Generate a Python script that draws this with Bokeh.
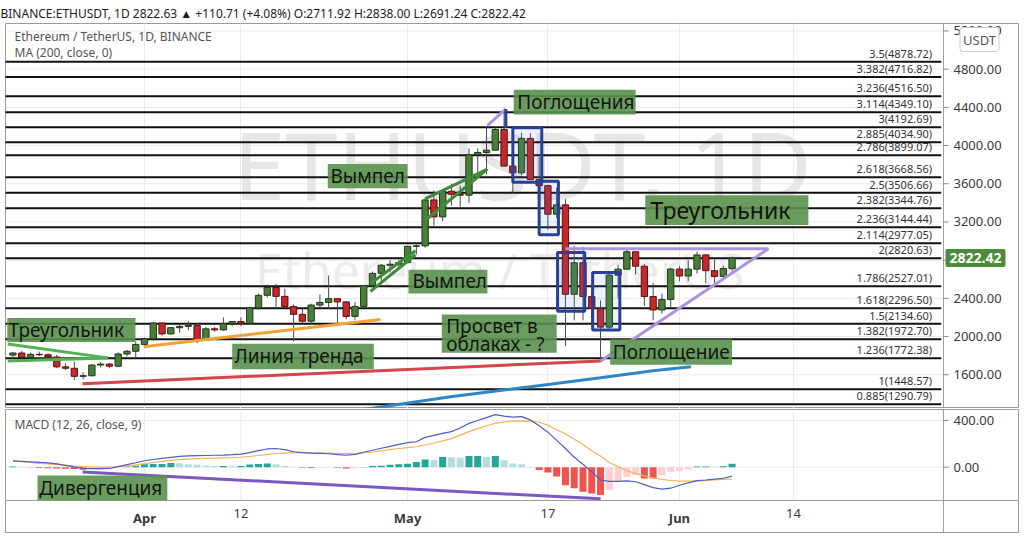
import pandas as pd
from bokeh.plotting import figure
from bokeh.layouts import column
from bokeh.models import Range1d, FixedTicker, PrintfTickFormatter, Label, LinearAxis
from bokeh.embed import file_html
from bokeh.resources import INLINE
from bokeh.core.properties import value

FONT = "Noto Sans"

# ---------------- data ----------------
dates = [d.strftime("%Y-%m-%d") for d in pd.date_range("2021-03-17", "2021-06-07")]
opens = [1806, 1828, 1782, 1814, 1810, 1786, 1683, 1668, 1584, 1590, 1702, 1712, 1690, 1818, 1846,
         1918, 1977, 2142, 2028, 2093, 2107, 2115, 1961, 2081, 2070, 2135, 2157, 2139, 2300, 2432,
         2514, 2421, 2315, 2233, 2161, 2330, 2357, 2397, 2363, 2211, 2316, 2534, 2662, 2747, 2757,
         2774, 2945, 2950, 3431, 3253, 3522, 3490, 3481, 3903, 3928, 3952, 4168, 3785, 3715, 4075,
         3643, 3580, 3281, 3379, 2443, 2773, 2419, 2295, 2099, 2643, 2706, 2888, 2737, 2419, 2279,
         2389, 2707, 2634, 2706, 2855, 2690, 2630, 2712]
highs = [1840, 1850, 1832, 1842, 1825, 1810, 1722, 1738, 1628, 1710, 1732, 1722, 1835, 1862, 1945,
         1990, 2150, 2145, 2100, 2130, 2160, 2140, 2100, 2100, 2200, 2160, 2200, 2315, 2450, 2545,
         2550, 2500, 2340, 2290, 2345, 2440, 2640, 2400, 2370, 2360, 2540, 2680, 2760, 2800, 2800,
         2950, 2985, 3450, 3530, 3540, 3600, 3580, 3970, 3970, 4200, 4190, 4372, 4030, 4135, 4130,
         3880, 3590, 3560, 3440, 2950, 2940, 2480, 2380, 2660, 2750, 2910, 2890, 2760, 2560, 2450,
         2720, 2740, 2800, 2890, 2860, 2810, 2740, 2838]
lows = [1765, 1765, 1760, 1795, 1750, 1672, 1652, 1545, 1550, 1582, 1676, 1668, 1680, 1792, 1770,
        1900, 1955, 2010, 2020, 2040, 2065, 1932, 1955, 2050, 2060, 2110, 2110, 2130, 2280, 2410,
        2310, 2300, 1950, 2140, 2130, 2300, 2290, 2110, 2180, 2170, 2310, 2515, 2580, 2670, 2710,
        2770, 2860, 2930, 3160, 3210, 3370, 3360, 3400, 3700, 3700, 3950, 3780, 3500, 3690, 3640,
        3300, 3120, 3240, 1900, 2170, 2170, 2110, 1735, 2060, 2400, 2700, 2650, 2320, 2170, 2240,
        2310, 2580, 2580, 2660, 2560, 2560, 2620, 2691]
closes = [1828, 1782, 1814, 1810, 1786, 1683, 1668, 1584, 1590, 1702, 1712, 1690, 1818, 1846, 1918,
          1977, 2142, 2028, 2093, 2107, 2115, 1961, 2081, 2070, 2135, 2157, 2139, 2300, 2432, 2514,
          2421, 2315, 2233, 2161, 2330, 2357, 2397, 2363, 2211, 2316, 2534, 2662, 2747, 2757, 2774,
          2945, 2950, 3431, 3253, 3522, 3490, 3481, 3903, 3928, 3952, 4168, 3785, 3715, 4075, 3643,
          3580, 3281, 3379, 2443, 2773, 2419, 2295, 2099, 2643, 2706, 2888, 2737, 2419, 2279, 2389,
          2707, 2634, 2706, 2855, 2690, 2630, 2712, 2822]

macd = [54, 50, 46, 42, 37, 28, 15, 2, -10, -12, -12, -11, 5, 22, 38, 55, 66, 75, 84, 92, 97, 99,
        100, 102, 104, 107, 112, 125, 142, 156, 160, 150, 132, 124, 120, 118, 115, 108, 102, 110,
        128, 145, 162, 178, 196, 210, 218, 255, 272, 290, 305, 335, 375, 400, 425, 450, 438, 428,
        433, 405, 355, 300, 230, 160, 85, 25, -40, -110, -122, -122, -118, -125, -150, -175, -188,
        -180, -155, -135, -115, -110, -103, -95, -77]
signal = [54, 48, 40, 33, 28, 22, 16, 10, 5, 2, 0, 1, 5, 12, 20, 30, 40, 50, 58, 64, 69, 73, 76,
          78, 80, 82, 85, 92, 100, 110, 117, 121, 124, 124, 123, 122, 120, 118, 116, 117, 122, 130,
          140, 150, 160, 168, 175, 190, 207, 225, 245, 275, 305, 330, 355, 375, 388, 395, 396, 394,
          385, 360, 320, 285, 240, 195, 140, 95, 40, 5, -30, -55, -75, -92, -105, -114, -119, -120,
          -119, -115, -108, -105, -103]
hist = [5, 3, -3, -8, -10, -12, -13, -15, -22, -10, -6, -3, 0, 5, 12, 25, 28, 28, 35, 33, 25, 20,
        15, 10, 10, 8, 10, 22, 28, 32, 26, 12, 4, -5, -6, -3, -2, -5, -12, -10, 2, 10, 13, 20, 25,
        30, 45, 65, 62, 88, 85, 80, 96, 96, 88, 96, 60, 32, 25, 3, -25, -45, -80, -155, -180, -210,
        -225, -238, -195, -125, -85, -68, -96, -96, -68, -40, -35, -20, 5, 6, 4, 8, 30]

# Fibonacci extension levels
fib_ratio = ["0.885", "1", "1.236", "1.382", "1.5", "1.618", "1.786", "2", "2.114", "2.236",
             "2.382", "2.5", "2.618", "2.786", "2.885", "3", "3.114", "3.236", "3.382", "3.5"]
fib_price = [1290.79, 1448.57, 1772.38, 1972.70, 2134.60, 2296.50, 2527.01, 2820.63, 2977.05,
             3144.44, 3344.76, 3506.66, 3668.56, 3899.07, 4034.90, 4192.69, 4349.10, 4516.50,
             4716.82, 4878.72]

# 200-day MA (visible part)
ma_day = [24.0, 25.8, 34.9, 44.0, 52.0, 58.0, 62.3]
ma_val = [1226, 1247, 1371, 1475, 1569, 1642, 1683]

# ticks (x = days since 1 Apr 2021)
month_ticks = [0, 30, 61]
month_labels = ["Apr", "May", "Jun"]
day_ticks = [11, 46, 74]
day_labels = ["12", "17", "14"]
price_ticks = [1600, 2000, 2400, 2800, 3200, 3600, 4000, 4400, 4800, 5200]
macd_ticks = [0, 400]
last_price = 2822.42

# drawings (day offset, price)
green_tri = [([-15.6, -4.2], [1922, 1777]), ([-15.6, -4.2], [1745, 1777])]
orange_trend = ([-0.1, 26.9], [1894, 2179])
red_trend = ([-7.07, 52.0], [1506, 1745])
purple_tri = [([48.0, 71.15], [2920, 2920]), ([52.0, 71.15], [1745, 2920])]
purple_top = ([39.1, 41.2], [4208, 4384])
blue_tick = ([41.2, 41.2], [4384, 4187])
pennant_up = [([32.0, 39.1], [3442, 3754]), ([32.2, 39.1], [3231, 3754])]
pennant_low = [([25.77, 30.9], [2556, 2899]), ([25.77, 30.9], [2473, 2857])]
rect_l = [42.0, 45.0, 47.1, 51.1]
rect_r = [45.3, 47.2, 50.2, 54.2]
rect_t = [4187, 3626, 2881, 2670]
rect_b = [3616, 3065, 2265, 2068]
div_line = ([-7.07, 52.0], [-41, -271])

note_l = [-15.65, 10.0, 20.9, 30.1, 42.1, 33.9, 53.1]
note_r = [-1.03, 26.15, 30.0, 39.1, 56.0, 47.0, 67.0]
note_t = [2195, 1925, 3806, 2701, 4585, 2231, 1971]
note_b = [1943, 1659, 3553, 2452, 4325, 1832, 1704]
note_x = [-15.5, 10.26, 21.2, 30.56, 42.5, 34.4, 34.4, 53.4]
note_y = [2067, 1792, 3678, 2577, 4457, 2109, 1922, 1839]
note_text = ["Треугольник", "Линия тренда", "Вымпел", "Вымпел", "Поглощения",
             "Просвет в", "облаках - ?", "Поглощение"]
big_note = dict(l=57.1, r=75.7, t=3481, b=3169, x=57.7, y=3325, text="Треугольник")
div_note = dict(l=-12.2, r=2.6, t=-71, b=-285, x=-12.0, y=-182, text="Дивергенция")

header = ("BINANCE:ETHUSDT, 1D  2822.63 \u25b2 +110.71 (+4.08%)  O:2711.92  H:2838.00  "
          "L:2691.24  C:2822.42")

# ---------------- derived ----------------
base = pd.Timestamp("2021-04-01")
xs = [(pd.Timestamp(d) - base).days for d in dates]
up = [c >= o for o, c in zip(opens, closes)]
body_top = [max(o, c) for o, c in zip(opens, closes)]
body_bot = [min(o, c) for o, c in zip(opens, closes)]
body_col = ["#4a7f3b" if u else "#c4282d" for u in up]
body_line = ["#1e3a16" if u else "#5a1010" for u in up]
x_ticks = sorted(month_ticks + day_ticks)

hcol = []
for i, h in enumerate(hist):
    prev = hist[i - 1] if i > 0 else h
    if h >= 0:
        hcol.append("#26a69a" if h >= prev else "#b2dfdb")
    else:
        hcol.append("#ef5350" if h <= prev else "#ffcdd2")

# frame spans the whole chart box (incl. the price-scale strip)
X0, X1 = -15.85, 99.66
SEP = 91.1          # left edge of price scale strip
PY0, PY1 = 1247, 5278
MY0, MY1 = -568, 494
MSEP = -285         # bottom of MACD pane (top of time scale strip)
GRID = "#ebebeb"
BORDER = "#9a9a9a"
AX_TXT = "#3a3a3a"


def style_right_axis(ax, ticks):
    ax.ticker = FixedTicker(ticks=ticks)
    ax.formatter = PrintfTickFormatter(format="%.2f")
    ax.major_label_text_font = FONT
    ax.major_label_text_font_size = "13px"
    ax.major_label_text_color = AX_TXT
    ax.major_tick_in = 0
    ax.major_tick_out = 0
    ax.major_tick_line_color = None
    ax.minor_tick_line_color = None
    ax.axis_line_color = None
    ax.major_label_standoff = -65


def style_time_axis(ax, ticks, labels, bold, standoff):
    ax.ticker = FixedTicker(ticks=ticks)
    ax.major_label_overrides = {t: l for t, l in zip(ticks, labels)}
    ax.major_label_text_font = FONT
    ax.major_label_text_font_size = "13px"
    ax.major_label_text_font_style = "bold" if bold else "normal"
    ax.major_label_text_color = AX_TXT
    ax.major_tick_in = 0
    ax.major_tick_out = 0
    ax.major_tick_line_color = None
    ax.minor_tick_line_color = None
    ax.axis_line_color = None
    ax.major_label_standoff = standoff


# ---------------- price pane ----------------
pA = figure(width=1024, height=408, x_range=Range1d(X0, X1), y_range=Range1d(PY0, PY1),
            output_backend="svg", toolbar_location=None, x_axis_location=None,
            y_axis_location="right", min_border_left=5, min_border_right=6,
            min_border_top=20, min_border_bottom=0, outline_line_color=BORDER)
pA.title.text = header
pA.title.text_font = FONT
pA.title.text_font_size = "12px"
pA.title.text_font_style = "normal"
pA.title.text_color = "#1d1d1d"
pA.title.offset = -5
pA.title.standoff = 4
style_right_axis(pA.yaxis[0], price_ticks)
pA.ygrid.visible = False
pA.xgrid.ticker = FixedTicker(ticks=x_ticks)
pA.xgrid.grid_line_color = GRID

pA.segment(x0=X0, x1=SEP, y0=price_ticks, y1=price_ticks, line_color=GRID, line_width=1)

# watermark
pA.text(x=[43.1], y=[3803], text=["ETHUSDT, 1D"], text_font=value(FONT), text_font_size="94px",
        text_color="#e6e6e6", text_align="center", text_baseline="middle")
pA.text(x=[40.5], y=[2701], text=["Ethereum / TetherUS"], text_font=value(FONT),
        text_font_size="50px", text_color="#ececec", text_align="center", text_baseline="middle")

# fib levels
pA.segment(x0=X0 - 1, x1=SEP - 0.25, y0=fib_price, y1=fib_price, line_color="#111111",
           line_width=2)
fib_labels = [f"{r}({v:.2f})" for r, v in zip(fib_ratio, fib_price)]
pA.text(x=89.8, y=fib_price, text=fib_labels, text_font=value(FONT), text_font_size="11px",
        text_color="#333333", text_align="right", text_baseline="bottom", y_offset=-1)

# price scale strip: separator + tick marks
pA.segment(x0=[SEP], x1=[SEP], y0=[PY0], y1=[PY1], line_color=BORDER, line_width=1)
pA.segment(x0=SEP, x1=SEP + 0.6, y0=price_ticks, y1=price_ticks, line_color="#888888",
           line_width=1)

# MA 200
pA.line(ma_day, ma_val, line_color="#2f86c6", line_width=3)

# candles
pA.segment(x0=xs, x1=xs, y0=lows, y1=highs, line_color="#4a4a4a", line_width=1)
pA.vbar(x=xs, width=0.72, top=body_top, bottom=body_bot, fill_color=body_col,
        line_color=body_line, line_width=1)

# drawings
for xx, yy in green_tri:
    pA.line(xx, yy, line_color="#52b152", line_width=3)
pA.line(*orange_trend, line_color="#f0a334", line_width=3)
pA.line(*red_trend, line_color="#d5454b", line_width=3)
for xx, yy in purple_tri:
    pA.line(xx, yy, line_color="#ad92e0", line_width=3)
pA.line(*purple_top, line_color="#ad92e0", line_width=3)
for xx, yy in pennant_up + pennant_low:
    pA.line(xx, yy, line_color="#3f8a3a", line_width=3)
pA.quad(left=rect_l, right=rect_r, top=rect_t, bottom=rect_b, fill_color="#3f7fd8",
        fill_alpha=0.10, line_color="#2a3f98", line_width=3)
pA.line(*blue_tick, line_color="#2a3f98", line_width=3)

# notes
pA.quad(left=note_l, right=note_r, top=note_t, bottom=note_b, fill_color="#5a914e",
        fill_alpha=0.9, line_color=None)
pA.text(x=note_x, y=note_y, text=note_text, text_font=value(FONT), text_font_size="19px",
        text_color="#141414", text_baseline="middle")
pA.quad(left=[big_note["l"]], right=[big_note["r"]], top=[big_note["t"]], bottom=[big_note["b"]],
        fill_color="#5a914e", fill_alpha=0.9, line_color=None)
pA.text(x=[big_note["x"]], y=[big_note["y"]], text=[big_note["text"]], text_font=value(FONT),
        text_font_size="23px", text_color="#141414", text_baseline="middle")

# pane captions, currency box, last price badge
pA.add_layout(Label(x=9, y=372, x_units="screen", y_units="screen",
                    text="Ethereum / TetherUS, 1D, BINANCE", text_font=FONT,
                    text_font_size="12px", text_color="#555555", text_baseline="middle"))
pA.add_layout(Label(x=9, y=356, x_units="screen", y_units="screen", text="MA (200, close, 0)",
                    text_font=FONT, text_font_size="12px", text_color="#555555",
                    text_baseline="middle"))
pA.add_layout(Label(x=974, y=369, x_units="screen", y_units="screen", text="USDT",
                    text_font=FONT, text_font_size="13px", text_color="#555555",
                    text_align="center", text_baseline="middle", background_fill_color="white",
                    border_line_color="#cccccc", padding=3, border_radius=3))
pA.add_layout(Label(x=940, y=last_price, x_units="screen", y_units="data",
                    text=f"{last_price:.2f}", text_font=FONT, text_font_size="14px",
                    text_font_style="bold", text_color="white", text_baseline="middle",
                    background_fill_color="#4b8b3b", padding=4, border_radius=2))

# ---------------- MACD pane ----------------
pB = figure(width=1024, height=125, x_range=pA.x_range, y_range=Range1d(MY0, MY1),
            output_backend="svg", toolbar_location=None, y_axis_location="right",
            min_border_left=5, min_border_right=6, min_border_top=1, min_border_bottom=0,
            outline_line_color=BORDER)
style_right_axis(pB.yaxis[0], macd_ticks)
style_time_axis(pB.xaxis[0], day_ticks, day_labels, False, -25)
month_axis = LinearAxis()
style_time_axis(month_axis, month_ticks, month_labels, True, -25)
pB.add_layout(month_axis, "below")
pB.xgrid.visible = False
pB.ygrid.visible = False

pB.segment(x0=X0, x1=SEP, y0=macd_ticks, y1=macd_ticks, line_color=GRID, line_width=1)
pB.segment(x0=x_ticks, x1=x_ticks, y0=MSEP, y1=MY1, line_color=GRID, line_width=1)
pB.segment(x0=[X0], x1=[X1], y0=[MSEP], y1=[MSEP], line_color=BORDER, line_width=1)
pB.segment(x0=[SEP], x1=[SEP], y0=[MY0], y1=[MY1], line_color=BORDER, line_width=1)
pB.segment(x0=SEP, x1=SEP + 0.6, y0=macd_ticks, y1=macd_ticks, line_color="#888888",
           line_width=1)

pB.vbar(x=xs, width=0.8, top=hist, bottom=0, fill_color=hcol, line_color=None)
pB.line(xs, signal, line_color="#f2b45a", line_width=1.2)
pB.line(xs, macd, line_color="#4b5fc2", line_width=1.2)
pB.line(*div_line, line_color="#7b57c4", line_width=3)
pB.quad(left=[div_note["l"]], right=[div_note["r"]], top=[div_note["t"]], bottom=[div_note["b"]],
        fill_color="#5a914e", fill_alpha=0.9, line_color=None)
pB.text(x=[div_note["x"]], y=[div_note["y"]], text=[div_note["text"]], text_font=value(FONT),
        text_font_size="19px", text_color="#141414", text_baseline="middle")
pB.add_layout(Label(x=9, y=109, x_units="screen", y_units="screen",
                    text="MACD (12, 26, close, 9)", text_font=FONT, text_font_size="12px",
                    text_color="#555555", text_baseline="middle"))

layout = column(pA, pB, spacing=0)
html = file_html(layout, INLINE)
html = html.replace("</head>", "<style>html,body{margin:0;padding:0;}</style></head>", 1)
open("out.html", "w").write(html)
